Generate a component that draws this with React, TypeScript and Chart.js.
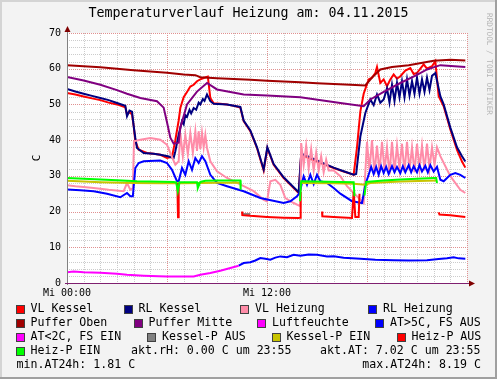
import React, { useEffect, useRef } from 'react';
import { Chart, registerables } from 'chart.js';

Chart.register(...registerables);

type P = [number, number | null];

// ---------- texts ----------
const chartTitle = 'Temperaturverlauf Heizung am: 04.11.2015';
const yAxisTitle = 'C';
const watermark = 'RRDTOOL / TOBI OETIKER';
const xTickHours = [0, 12];
const xTickLabels = ['Mi 00:00', 'Mi 12:00'];
const yMin = 0;
const yMax = 70;
const yLabelStep = 10;
const xMin = 0;
const xMax = 24;

// ---------- series (hour of day, value in C) ----------
const vlKessel: P[] = [
  [0, 53.2], [0.5, 52.8], [1, 52.2], [1.5, 51.7], [2, 51.2], [2.5, 50.5], [3, 50], [3.5, 49.2],
  [3.6, 47.2], [3.75, 47.9], [3.9, 47.2], [4.0, 44], [4.1, 39.7], [4.3, 37.3], [4.8, 36.4],
  [5.2, 36.2], [5.6, 35.9], [6.0, 35.0], [6.3, 35.3], [6.5, 40], [6.7, 45.5], [6.8, 49],
  [7.0, 52], [7.2, 53.5], [7.4, 55], [7.6, 55.5], [7.8, 56.5], [8.0, 57], [8.2, 57.4],
  [8.45, 57.8], [8.6, 51.8], [8.8, 50.3], [9.2, 50.2], [9.6, 50], [10, 49.6], [10.4, 49.1],
  [10.6, 45.3], [11.0, 42.5], [11.4, 37.8], [11.8, 31.5], [12.02, 37.8], [12.4, 33.1],
  [13, 29.4], [13.3, 28], [13.6, 26.6], [13.9, 25.2], [14.05, 36], [14.5, 35], [15, 34],
  [15.5, 33.1], [16, 32.2], [16.6, 31.2], [17.2, 30.3], [17.4, 38], [17.6, 48], [17.8, 53],
  [18.1, 57], [18.3, 57.5], [18.5, 58.8], [18.6, 60.5], [18.8, 56], [19.0, 57], [19.2, 55.1],
  [19.4, 57], [19.6, 58.4], [19.8, 57.2], [20, 57.9], [20.3, 59.5], [20.6, 60.2], [20.8, 58.5],
  [21, 58.8], [21.2, 60], [21.4, 61.2], [21.6, 60], [21.9, 60.7], [22.1, 62.1], [22.3, 52.3],
  [22.6, 49.5], [23, 43], [23.4, 37.3], [23.7, 34], [23.9, 32.3],
];

const rlKessel: P[] = [
  [0, 54.3], [0.5, 53.6], [1, 53], [1.5, 52.4], [2, 51.8], [2.5, 51.2], [3, 50.4], [3.5, 49.6],
  [3.6, 46.7], [3.75, 48.3], [3.9, 48], [4.0, 44], [4.1, 40.6], [4.2, 37.8], [4.6, 36.4],
  [5.2, 36.2], [5.6, 35.9], [6.05, 35.5], [6.4, 35], [6.5, 36.9], [6.7, 41.5], [6.9, 45.3],
  [7.0, 44.5], [7.1, 47], [7.2, 46.5], [7.35, 48.5], [7.45, 47.5], [7.6, 49], [7.75, 48.5],
  [7.9, 50.5], [8, 50], [8.15, 51.5], [8.25, 51], [8.4, 52.8], [8.6, 50.9], [8.8, 50.2],
  [9.6, 50], [10.4, 49.3], [10.6, 45.5], [11, 42.7], [11.4, 38], [11.8, 31.8], [12.02, 38],
  [12.4, 33.3], [13, 29.6], [13.6, 26.8], [13.9, 25.4], [14.05, 36.2], [14.5, 35.4],
  [15, 34.3], [15.5, 33.3], [16, 32.3], [16.6, 31.3], [17.2, 30.3], [17.35, 30.5], [17.6, 41],
  [17.9, 47.6], [18.2, 51.4], [18.4, 49.8], [18.6, 52.8], [18.8, 50.5], [19.0, 51.4],
  [19.2, 54.5], [19.35, 50.5], [19.5, 55.5], [19.65, 51], [19.8, 56], [19.95, 52],
  [20.1, 56.5], [20.25, 52], [20.4, 57], [20.55, 52.5], [20.7, 56.5], [20.85, 53],
  [21.0, 57.5], [21.15, 53], [21.3, 57], [21.45, 53.5], [21.6, 57.5], [21.75, 54],
  [21.9, 58], [22.1, 58.8], [22.4, 52.3], [22.6, 50], [23, 43.5], [23.4, 38], [23.7, 35.5],
  [23.9, 34],
];

const vlHeizung: P[] = [
  [0, 27.4], [0.5, 27.1], [1, 26.9], [1.6, 26.6], [2.5, 26.1], [3.4, 25.7], [3.6, 28],
  [3.8, 26.1], [3.95, 26.6], [4.02, 39.7], [4.4, 40.1], [5, 40.6], [5.6, 40.1], [6, 38.7],
  [6.2, 36.4], [6.5, 33.1], [6.7, 34.1], [6.8, 42], [6.95, 35.5], [7.1, 41.5], [7.25, 36],
  [7.4, 42], [7.55, 36.5], [7.7, 42.5], [7.8, 37], [7.9, 42.5], [8.0, 37.5], [8.1, 42],
  [8.2, 38], [8.3, 41.5], [8.4, 37.8], [8.6, 34.1], [9, 31.3], [9.6, 29.4], [10.6, 27.1],
  [11.2, 25.7], [11.8, 23.3], [12, 22.9], [12.2, 28.5], [12.5, 28.9], [12.8, 27.5],
  [13.1, 23.8], [13.6, 22.4], [14, 21.5], [14.05, 39.2], [14.2, 33], [14.35, 38.5],
  [14.5, 32], [14.65, 37.5], [14.8, 31.5], [14.95, 36.5], [15.1, 31.5], [15.25, 35.5],
  [15.4, 31], [15.55, 34.5], [15.7, 31.5], [16, 31.5], [16.4, 29.9], [16.8, 27.1],
  [17.2, 25.2], [17.8, 22.4], [18.0, 39.5], [18.15, 31.5], [18.3, 40], [18.45, 30.5],
  [18.6, 38.5], [18.75, 31], [18.9, 39.5], [19.05, 31.5], [19.2, 38], [19.35, 30.5],
  [19.5, 39.5], [19.65, 31], [19.8, 38.5], [19.95, 32], [20.1, 39], [20.25, 31],
  [20.4, 39.5], [20.55, 31.5], [20.7, 38], [20.85, 31], [21.0, 39], [21.15, 32],
  [21.3, 38.5], [21.45, 31.5], [21.6, 39], [21.75, 32], [21.9, 38], [22.05, 33],
  [22.2, 38], [22.4, 35.5], [23, 29.9], [23.6, 26.1], [23.9, 25.2],
];

const rlHeizung: P[] = [
  [0, 26.2], [0.8, 26], [1.6, 25.7], [2.4, 25], [3.2, 24], [3.6, 25.2], [3.8, 24.3],
  [3.95, 24.3], [4.1, 32.2], [4.3, 33.6], [4.6, 34.1], [5.6, 34.3], [6, 33.6], [6.3, 31.7],
  [6.6, 28.5], [6.7, 28.5], [6.9, 32.2], [7.1, 30.3], [7.3, 34.1], [7.5, 31.7], [7.7, 35],
  [7.9, 33.6], [8.1, 35.5], [8.3, 34.1], [8.6, 30.3], [9, 28], [9.6, 27.1], [10.6, 25.7],
  [11.6, 23.8], [13, 22.4], [13.4, 22.9], [13.8, 24.3], [13.95, 25.2], [14.2, 29.9],
  [14.4, 27.5], [14.6, 30.3], [14.8, 27.7], [15, 30.3], [15.2, 28.5], [15.6, 28], [16, 26.6],
  [16.4, 25], [17.1, 22.9], [17.7, 22.4], [17.9, 27.5], [18.1, 30.3], [18.25, 32.5],
  [18.4, 30.5], [18.55, 32.5], [18.7, 30.3], [18.85, 32.7], [19.0, 30.8], [19.15, 32.5],
  [19.3, 30.5], [19.5, 32.7], [19.65, 31], [19.8, 32.5], [20, 30.8], [20.15, 32.7],
  [20.3, 31], [20.5, 33], [20.65, 31], [20.8, 32.7], [21, 31], [21.15, 33], [21.3, 31.2],
  [21.5, 32.8], [21.65, 31], [21.8, 33], [22, 31.2], [22.2, 32.5], [22.4, 28.9],
  [22.6, 28.5], [23, 30.3], [23.3, 30.8], [23.6, 30.3], [23.9, 29.4],
];

const pufferOben: P[] = [
  [0, 61], [1, 60.7], [2, 60.4], [3, 60], [4, 59.6], [5, 59.2], [6, 58.9], [7, 58.4],
  [7.7, 58.2], [8, 57.6], [9, 57.3], [10, 57.1], [11, 56.9], [12, 56.6], [13, 56.4],
  [14, 56.2], [15, 55.9], [16, 55.7], [17, 55.5], [17.9, 55.3], [18.3, 57.5], [18.8, 59.8],
  [19.5, 60.5], [20.5, 61], [21.5, 61.8], [22, 62.2], [23, 62.5], [23.9, 62.3],
];

const pufferMitte: P[] = [
  [0, 57.7], [1, 56.7], [2, 55.5], [3, 54], [3.6, 53], [4.4, 51.8], [5.4, 50.9], [5.8, 49.1],
  [6.0, 45], [6.2, 40.7], [6.4, 39], [6.7, 39.3], [6.8, 43.5], [7.2, 50], [7.8, 53.6],
  [8.4, 56], [9, 54.2], [10.6, 52.8], [12, 52.5], [14, 52], [16.4, 50.4], [17.8, 49.5],
  [18.2, 51.4], [19, 53.5], [20, 56], [21, 58.3], [21.6, 59.8], [22.4, 61], [23.9, 60.5],
];

const luftfeuchte: P[] = [];

const atAbove5: P[] = [
  [10.3, 4.85], [10.6, 5.6], [11, 5.8], [11.3, 6.3], [11.6, 7.0], [11.9, 6.8], [12.2, 6.5],
  [12.5, 7.1], [12.8, 7.45], [13.2, 7.2], [13.6, 7.9], [14, 7.6], [14.5, 8], [15, 7.9],
  [15.6, 7.45], [16, 7.5], [16.6, 7.1], [17.6, 6.8], [18.5, 6.5], [19.6, 6.35], [20.5, 6.3],
  [21.6, 6.35], [22.3, 6.7], [22.8, 6.9], [23.2, 7.2], [23.5, 6.9], [23.9, 6.8],
];

const atBelow2: P[] = [
  [0, 3.0], [0.4, 3.25], [1, 3.0], [2, 2.9], [3, 2.6], [3.6, 2.3], [4.6, 2.05], [5.5, 1.9],
  [6, 1.85], [7, 1.85], [7.6, 1.85], [8, 2.3], [8.6, 2.8], [9.2, 3.45], [9.8, 4.2],
  [10.3, 4.85],
];

const kesselPAus: P[] = [[10.5, 19.3], [11.0, 19.3]];

const kesselPEin: P[] = [
  [0, 28.6], [1, 28.4], [2, 28.2], [4, 28.0], [5.6, 27.9], [7, 27.9], [9, 28.1], [10.4, 28.1],
  [10.45, null],
  [14, 28], [16, 27.9], [17.2, 27.8], [17.9, 27.5], [18.2, 28], [20, 28.4], [22.2, 28.7],
];

const heizPAus: P[] = [
  [6.62, 28], [6.66, 18.4], [6.7, 28], [6.75, null],
  [10.5, 20], [10.52, 19], [11, 18.8], [12, 18.5], [13, 18.3], [13.9, 18.2], [14, 18.3],
  [14.02, 25.5], [14.05, null],
  [15.3, 20], [15.32, 18.7], [16, 18.5], [17.1, 18.2], [17.2, 25.5], [17.3, 18.5],
  [17.5, 18.5], [17.55, 25], [17.6, null],
  [22.3, 19.8], [22.35, 19.2], [23, 19], [23.9, 18.5],
];

const heizPEin: P[] = [
  [0, 29.4], [1, 29.2], [2, 29], [3, 28.8], [4.2, 28.5], [5, 28.4], [6.4, 28.3],
  [6.55, 28.2], [6.65, 25.7], [6.75, 28.2], [7.8, 28.2], [7.85, 26.6], [8.0, 28.3],
  [8.3, 28.6], [9, 28.7], [10.4, 28.7], [10.42, 26.1], [10.5, null],
  [13.98, 22.9], [14.05, 28.5], [15, 28.4], [16.4, 28.3], [17.2, 28.2], [17.25, 24.3],
  [17.3, null],
  [17.85, 24.5], [17.95, 28.3], [19, 28.7], [20, 29], [21, 29.2], [22, 29.4], [22.15, 29.4],
  [22.2, 28],
];

// ---------- legend ----------
const legendLabels = [
  'VL Kessel', 'RL Kessel', 'VL Heizung', 'RL Heizung',
  'Puffer Oben', 'Puffer Mitte', 'Luftfeuchte', 'AT>5C, FS AUS',
  'AT<2C, FS EIN', 'Kessel-P AUS', 'Kessel-P EIN', 'Heiz-P AUS',
  'Heiz-P EIN',
];
const legendColors = [
  '#ff0000', '#000080', '#ff8ca8', '#0000ff',
  '#a00000', '#800080', '#ff00ff', '#0000ff',
  '#ff00ff', '#808080', '#c8c400', '#ff0000',
  '#00ff00',
];
const seriesData: P[][] = [
  vlKessel, rlKessel, vlHeizung, rlHeizung,
  pufferOben, pufferMitte, luftfeuchte, atAbove5,
  atBelow2, kesselPAus, kesselPEin, heizPAus,
  heizPEin,
];
const commentTexts = [
  'akt.rH: 0.00 C um 23:55',
  'akt.AT: 7.02 C um 23:55',
  'min.AT24h: 1.81 C',
  'max.AT24h: 8.19 C',
];

// ---------- layout (pixels) ----------
const W = 497;
const H = 379;
const MONO = '"DejaVu Sans Mono", monospace';
const legendTextPos: [number, number][] = [
  [30.5, 309], [138.5, 309], [255, 309], [383, 309],
  [30.5, 323], [148.5, 323], [272, 323], [390, 323],
  [30.5, 337], [162, 337], [286.5, 337], [411.5, 337],
  [30.5, 351],
];
const commentPos: [number, number, CanvasTextAlign][] = [
  [131, 351, 'left'], [320, 351, 'left'], [16.5, 365, 'left'], [481, 365, 'right'],
];

const rrdPlugin = {
  id: 'rrdLook',
  beforeDraw(chart: any) {
    const { ctx, chartArea: a, scales } = chart;
    const xs = scales.x;
    const ys = scales.y;
    ctx.save();
    ctx.fillStyle = '#f3f3f3';
    ctx.fillRect(0, 0, W, H);
    // frame
    ctx.fillStyle = '#d4d4d4';
    ctx.fillRect(0, 0, W, 2);
    ctx.fillRect(0, 0, 2, H);
    ctx.fillStyle = '#a0a0a0';
    ctx.fillRect(0, H - 2, W, 2);
    ctx.fillRect(W - 2, 0, 2, H);
    // canvas
    ctx.fillStyle = '#ffffff';
    ctx.fillRect(a.left, a.top, a.right - a.left, a.bottom - a.top);
    // grid
    ctx.lineWidth = 1;
    ctx.setLineDash([1, 1]);
    const hLine = (v: number, color: string) => {
      const y = Math.round(ys.getPixelForValue(v)) + 0.5;
      ctx.strokeStyle = color;
      ctx.beginPath();
      ctx.moveTo(a.left, y);
      ctx.lineTo(a.right, y);
      ctx.stroke();
    };
    const vLine = (h: number, color: string) => {
      const x = Math.round(xs.getPixelForValue(h)) + 0.5;
      ctx.strokeStyle = color;
      ctx.beginPath();
      ctx.moveTo(x, a.top);
      ctx.lineTo(x, a.bottom);
      ctx.stroke();
    };
    for (let v = yMin + 2; v <= yMax; v += 2) if (v % yLabelStep !== 0) hLine(v, '#cccccc');
    for (let h = xMin + 1; h < xMax; h += 1) if (h % 6 !== 0) vLine(h, '#cccccc');
    for (let v = yMin + yLabelStep; v <= yMax; v += yLabelStep) hLine(v, '#e09090');
    for (let h = xMin + 6; h <= xMax; h += 6) vLine(h, '#e09090');
    ctx.restore();
  },
  afterDatasetsDraw(chart: any) {
    const { ctx, chartArea: a } = chart;
    ctx.save();
    ctx.lineWidth = 1;
    // y axis
    ctx.strokeStyle = '#808080';
    ctx.beginPath();
    ctx.moveTo(a.left + 0.5, a.bottom + 2);
    ctx.lineTo(a.left + 0.5, a.top - 4);
    ctx.stroke();
    // x axis
    ctx.strokeStyle = '#7f2070';
    ctx.beginPath();
    ctx.moveTo(a.left - 2, a.bottom + 0.5);
    ctx.lineTo(a.right + 3, a.bottom + 0.5);
    ctx.stroke();
    // arrows
    ctx.fillStyle = '#800000';
    ctx.beginPath();
    ctx.moveTo(a.left + 0.5 - 3, a.top - 1);
    ctx.lineTo(a.left + 0.5 + 3, a.top - 1);
    ctx.lineTo(a.left + 0.5, a.top - 7);
    ctx.closePath();
    ctx.fill();
    ctx.beginPath();
    ctx.moveTo(a.right + 2, a.bottom + 0.5 - 3);
    ctx.lineTo(a.right + 2, a.bottom + 0.5 + 3);
    ctx.lineTo(a.right + 8, a.bottom + 0.5);
    ctx.closePath();
    ctx.fill();
    ctx.restore();
  },
  afterDraw(chart: any) {
    const { ctx, chartArea: a } = chart;
    ctx.save();
    ctx.fillStyle = '#000';
    // title
    ctx.font = `13.3px ${MONO}`;
    ctx.textAlign = 'center';
    ctx.textBaseline = 'middle';
    ctx.fillText(chartTitle, W / 2, 14);
    // y title
    ctx.save();
    ctx.translate(37, (a.top + a.bottom) / 2);
    ctx.rotate(-Math.PI / 2);
    ctx.font = `11px ${MONO}`;
    ctx.fillText(yAxisTitle, 0, 0);
    ctx.restore();
    // watermark
    ctx.save();
    ctx.translate(489, 64);
    ctx.rotate(Math.PI / 2);
    ctx.font = `7.7px ${MONO}`;
    ctx.fillStyle = '#b4b4b4';
    ctx.fillText(watermark, 0, 0);
    ctx.restore();
    // legend
    ctx.font = `11.6px ${MONO}`;
    ctx.textAlign = 'left';
    legendLabels.forEach((label, i) => {
      const [tx, ty] = legendTextPos[i];
      const bx = Math.round(tx - 15);
      const by = Math.round(ty - 4.5);
      ctx.fillStyle = legendColors[i];
      ctx.fillRect(bx, by, 9, 9);
      ctx.strokeStyle = '#404040';
      ctx.lineWidth = 1;
      ctx.strokeRect(bx + 0.5, by + 0.5, 8, 8);
      ctx.fillStyle = '#000';
      ctx.fillText(label, tx, ty);
    });
    commentTexts.forEach((t, i) => {
      const [cx, cy, al] = commentPos[i];
      ctx.textAlign = al;
      ctx.fillStyle = '#000';
      ctx.fillText(t, cx, cy);
    });
    ctx.restore();
  },
};

export default function App() {
  const ref = useRef<HTMLCanvasElement>(null);
  useEffect(() => {
    const canvas = ref.current;
    if (!canvas) return;
    const n = seriesData.length;
    const datasets = seriesData.map((pts, i) => ({
      label: legendLabels[i],
      data: pts.map(([x, y]) => ({ x, y })),
      borderColor: legendColors[i],
      backgroundColor: legendColors[i],
      borderWidth: 2,
      pointRadius: 0,
      tension: 0,
      spanGaps: false,
      fill: false,
      order: n - i,
    }));
    const chart = new Chart(canvas, {
      type: 'line',
      data: { datasets },
      options: {
        responsive: false,
        animation: false,
        devicePixelRatio: 1,
        events: [],
        layout: { padding: { left: 0, right: W - 467, top: 33, bottom: 76 } },
        plugins: {
          legend: { display: false },
          title: { display: false },
          tooltip: { enabled: false },
        },
        scales: {
          x: {
            type: 'linear',
            min: xMin,
            max: xMax,
            grid: { display: false, drawTicks: false, tickLength: 0 },
            border: { display: false },
            ticks: {
              font: { family: MONO, size: 10 },
              color: '#000',
              padding: 4,
              maxRotation: 0,
              autoSkip: false,
              callback: (v: any) => {
                const i = xTickHours.indexOf(Number(v));
                return i >= 0 ? xTickLabels[i] : '';
              },
            },
            afterBuildTicks: (s: any) => {
              s.ticks = xTickHours.map((v) => ({ value: v }));
            },
            afterFit: (s: any) => {
              s.height = 20;
            },
          },
          y: {
            type: 'linear',
            min: yMin,
            max: yMax,
            grid: { display: false, drawTicks: false, tickLength: 0 },
            border: { display: false },
            ticks: {
              stepSize: yLabelStep,
              font: { family: MONO, size: 10 },
              color: '#000',
              padding: 6,
            },
            afterFit: (s: any) => {
              s.width = 67;
            },
          },
        },
      } as any,
      plugins: [rrdPlugin],
    });
    return () => chart.destroy();
  }, []);
  return (
    <div style={{ position: 'absolute', left: 0, top: 0, width: W, height: H }}>
      <canvas ref={ref} width={W} height={H} style={{ display: 'block', width: W, height: H }} />
    </div>
  );
}
